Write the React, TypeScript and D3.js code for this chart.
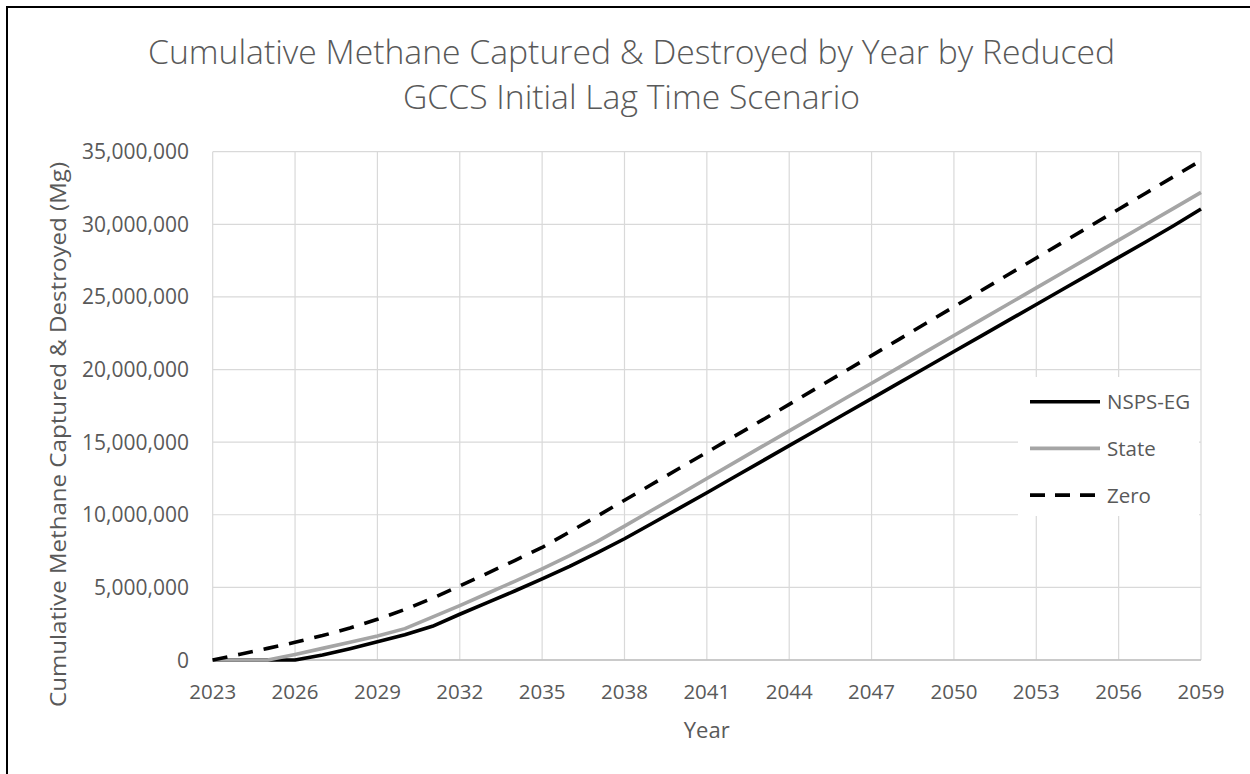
import React from "react";
import * as d3 from "d3";

// Cumulative methane captured & destroyed (Mg), by year and scenario
const years: number[] = [
  2023, 2024, 2025, 2026, 2027, 2028, 2029, 2030, 2031, 2032, 2033, 2034, 2035,
  2036, 2037, 2038, 2039, 2040, 2041, 2042, 2043, 2044, 2045, 2046, 2047, 2048,
  2049, 2050, 2051, 2052, 2053, 2054, 2055, 2056, 2057, 2058, 2059,
];

const nspsEg: number[] = [
  0, 0, 0, 0, 350000, 780000, 1250000, 1740000, 2320000, 3150000, 3950000,
  4750000, 5580000, 6450000, 7380000, 8350000, 9400000, 10460000, 11520000,
  12600000, 13680000, 14760000, 15840000, 16920000, 18000000, 19080000,
  20160000, 21240000, 22320000, 23400000, 24480000, 25560000, 26640000,
  27720000, 28800000, 29900000, 31050000,
];

const state: number[] = [
  0, 0, 0, 380000, 800000, 1220000, 1660000, 2160000, 2950000, 3750000,
  4580000, 5420000, 6280000, 7180000, 8150000, 9220000, 10310000, 11400000,
  12500000, 13590000, 14690000, 15780000, 16870000, 17970000, 19060000,
  20150000, 21250000, 22340000, 23440000, 24530000, 25620000, 26720000,
  27810000, 28910000, 30000000, 31100000, 32200000,
];

const zero: number[] = [
  0, 400000, 800000, 1220000, 1680000, 2200000, 2800000, 3480000, 4250000,
  5100000, 5970000, 6850000, 7750000, 8820000, 9900000, 11000000, 12100000,
  13200000, 14300000, 15400000, 16500000, 17600000, 18720000, 19840000,
  20960000, 22080000, 23200000, 24320000, 25440000, 26560000, 27680000,
  28800000, 29920000, 31040000, 32160000, 33280000, 34400000,
];

const xTicks: number[] = [2023, 2026, 2029, 2032, 2035, 2038, 2041, 2044, 2047, 2050, 2053, 2056, 2059];
const yTicks: number[] = [0, 5000000, 10000000, 15000000, 20000000, 25000000, 30000000, 35000000];

const titleLines: string[] = [
  "Cumulative Methane Captured & Destroyed by Year by Reduced",
  "GCCS Initial Lag Time Scenario",
];

type Series = { name: string; values: number[]; color: string; dash?: string };

const seriesList: Series[] = [
  { name: "NSPS-EG", values: nspsEg, color: "#000000" },
  { name: "State", values: state, color: "#a5a5a5" },
  { name: "Zero", values: zero, color: "#000000", dash: "15,11" },
];

const W = 1250;
const H = 774;
const plot = { left: 212.7, right: 1201, top: 151.7, bottom: 660 };
const FONT = "'Open Sans', 'Noto Sans', sans-serif";
const TEXT = "#595959";
const GRID = "#d9d9d9";

export default function App() {
  const x = d3.scaleLinear().domain([2023, 2059]).range([plot.left, plot.right]);
  const y = d3.scaleLinear().domain([0, 35000000]).range([plot.bottom, plot.top]);
  const fmt = d3.format(",");

  const line = (vals: number[]) =>
    d3
      .line<number>()
      .x((_, i) => x(years[i]))
      .y((v) => y(v))(vals) || "";

  const legend = { x: 1018, y: 377, w: 181, h: 139, lineX0: 1030, lineX1: 1100, textX: 1107, row0: 401.7, rowStep: 46.7 };
  const titleWidths = [967, 457];

  return (
    <div style={{ position: "absolute", left: 0, top: 0 }}>
      <svg width={W} height={H} style={{ display: "block" }} fontFamily={FONT}>
        <rect x={0} y={0} width={W} height={H} fill="#ffffff" />
        {/* chart frame */}
        <rect x={7} y={7} width={W + 40} height={H + 40} fill="none" stroke="#000" strokeWidth={2} />

        {/* title */}
        {titleLines.map((t, i) => (
          <text
            key={t}
            x={631.5}
            y={63.5 + i * 45}
            textAnchor="middle"
            fontSize={33}
            fontWeight={300}
            fill={TEXT}
            textLength={titleWidths[i]}
            lengthAdjust="spacingAndGlyphs"
          >
            {t}
          </text>
        ))}

        {/* gridlines */}
        {yTicks.map((v) => (
          <line key={"gy" + v} x1={plot.left} x2={plot.right} y1={y(v)} y2={y(v)} stroke={GRID} strokeWidth={1.2} />
        ))}
        {xTicks.map((v) => (
          <line key={"gx" + v} x1={x(v)} x2={x(v)} y1={plot.top} y2={plot.bottom} stroke={GRID} strokeWidth={1.2} />
        ))}
        <line x1={plot.left} x2={plot.right} y1={plot.bottom} y2={plot.bottom} stroke="#bfbfbf" strokeWidth={1.5} />

        {/* tick labels */}
        {yTicks.map((v) => (
          <text key={"ty" + v} x={189} y={y(v) + 7.5} textAnchor="end" fontSize={21} fill={TEXT}>
            {fmt(v)}
          </text>
        ))}
        {xTicks.map((v) => (
          <text key={"tx" + v} x={x(v)} y={699} textAnchor="middle" fontSize={20.5} fill={TEXT}>
            {v}
          </text>
        ))}

        {/* axis titles */}
        <text x={706.7} y={738} textAnchor="middle" fontSize={22} fill={TEXT}>
          Year
        </text>
        <text
          transform="translate(66,434.5) rotate(-90)"
          textAnchor="middle"
          fontSize={22}
          fill={TEXT}
          textLength={545}
          lengthAdjust="spacingAndGlyphs"
        >
          Cumulative Methane Captured &amp; Destroyed (Mg)
        </text>

        {/* series */}
        {seriesList.map((s) => (
          <path
            key={s.name}
            d={line(s.values)}
            fill="none"
            stroke={s.color}
            strokeWidth={3.6}
            strokeDasharray={s.dash}
            strokeLinejoin="round"
          />
        ))}

        {/* legend */}
        <rect x={legend.x} y={legend.y} width={legend.w} height={legend.h} fill="#ffffff" />
        {seriesList.map((s, i) => {
          const cy = legend.row0 + i * legend.rowStep;
          return (
            <g key={"lg" + s.name}>
              <line
                x1={legend.lineX0}
                x2={legend.lineX1}
                y1={cy}
                y2={cy}
                stroke={s.color}
                strokeWidth={3.6}
                strokeDasharray={s.dash ? "15,10" : undefined}
              />
              <text x={legend.textX} y={cy + 7.5} fontSize={20.5} fill={TEXT}>
                {s.name}
              </text>
            </g>
          );
        })}
      </svg>
    </div>
  );
}
